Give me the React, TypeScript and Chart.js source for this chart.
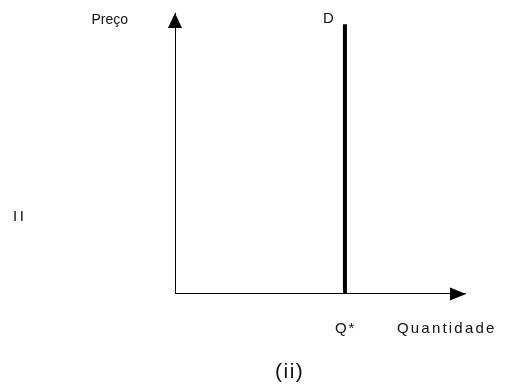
import React, { useEffect, useRef } from "react";
import { Chart, registerables } from "chart.js";

Chart.register(...registerables);

// Data (abstract units on 0..100 axes)
const axisMax = [100, 100];
const xAxisLine = [
  { x: 0, y: 0 },
  { x: 100, y: 0 },
];
const yAxisLine = [
  { x: 0, y: 0 },
  { x: 0, y: 100 },
];
const qStar = 58.4;
const demandTop = 96;
const demandLine = [
  { x: qStar, y: 0 },
  { x: qStar, y: demandTop },
];
const labelPrice = "Preço";
const labelQuantity = "Quantidade";
const labelDemand = "D";
const labelQStar = "Q*";
const labelPanel = "(ii)";
const labelRow = "II";

const FONT = '"Liberation Sans", Arial, sans-serif';

const annotatePlugin = {
  id: "annotate",
  afterDatasetsDraw(chart: any) {
    const ctx = chart.ctx as CanvasRenderingContext2D;
    const xs = chart.scales.x;
    const ys = chart.scales.y;
    const x0 = xs.getPixelForValue(0);
    const y0 = ys.getPixelForValue(0);
    const xEnd = xs.getPixelForValue(axisMax[0]);
    const yEnd = ys.getPixelForValue(axisMax[1]);
    const qx = xs.getPixelForValue(qStar);
    const dTop = ys.getPixelForValue(demandTop);

    ctx.save();
    ctx.fillStyle = "#000";
    // x arrowhead
    ctx.beginPath();
    ctx.moveTo(xEnd, y0);
    ctx.lineTo(xEnd - 16, y0 - 6.5);
    ctx.lineTo(xEnd - 16, y0 + 6.5);
    ctx.closePath();
    ctx.fill();
    // y arrowhead
    ctx.beginPath();
    ctx.moveTo(x0, yEnd);
    ctx.lineTo(x0 - 7, yEnd + 15);
    ctx.lineTo(x0 + 7, yEnd + 15);
    ctx.closePath();
    ctx.fill();

    ctx.fillStyle = "#111";
    ctx.textBaseline = "alphabetic";
    ctx.font = `14px ${FONT}`;
    ctx.textAlign = "right";
    (ctx as any).letterSpacing = "0px";
    ctx.fillText(labelPrice, x0 - 47, yEnd + 11);
    ctx.font = `15px ${FONT}`;
    ctx.fillText(labelDemand, qx - 11, dTop - 1);

    ctx.textAlign = "left";
    (ctx as any).letterSpacing = "2.2px";
    ctx.fillText(labelQuantity, qx + 52, y0 + 39);
    (ctx as any).letterSpacing = "2px";
    ctx.fillText(labelQStar, qx - 10, y0 + 39);
    (ctx as any).letterSpacing = "2.5px";
    ctx.fillText(labelRow, 13, 221);

    ctx.font = `21px ${FONT}`;
    (ctx as any).letterSpacing = "1.5px";
    ctx.fillText(labelPanel, 275, 378);
    ctx.restore();
  },
};

export default function App() {
  const ref = useRef<HTMLCanvasElement>(null);
  useEffect(() => {
    if (!ref.current) return;
    const chart = new Chart(ref.current, {
      type: "line",
      data: {
        datasets: [
          { data: xAxisLine, borderColor: "#000", borderWidth: 2, pointRadius: 0 },
          { data: yAxisLine, borderColor: "#000", borderWidth: 2, pointRadius: 0 },
          { data: demandLine, borderColor: "#000", borderWidth: 4, pointRadius: 0 },
        ],
      },
      options: {
        responsive: false,
        animation: false,
        layout: { padding: { left: 175, right: 42, top: 13, bottom: 91 } },
        plugins: { legend: { display: false }, tooltip: { enabled: false } },
        scales: {
          x: { type: "linear", min: 0, max: axisMax[0], display: false },
          y: { type: "linear", min: 0, max: axisMax[1], display: false },
        },
        elements: { line: { borderCapStyle: "butt" } },
      },
      plugins: [annotatePlugin],
    });
    return () => chart.destroy();
  }, []);
  return (
    <div style={{ position: "absolute", left: 0, top: 0, width: 508, height: 385, background: "#fff" }}>
      <canvas ref={ref} width={508} height={385} />
    </div>
  );
}
